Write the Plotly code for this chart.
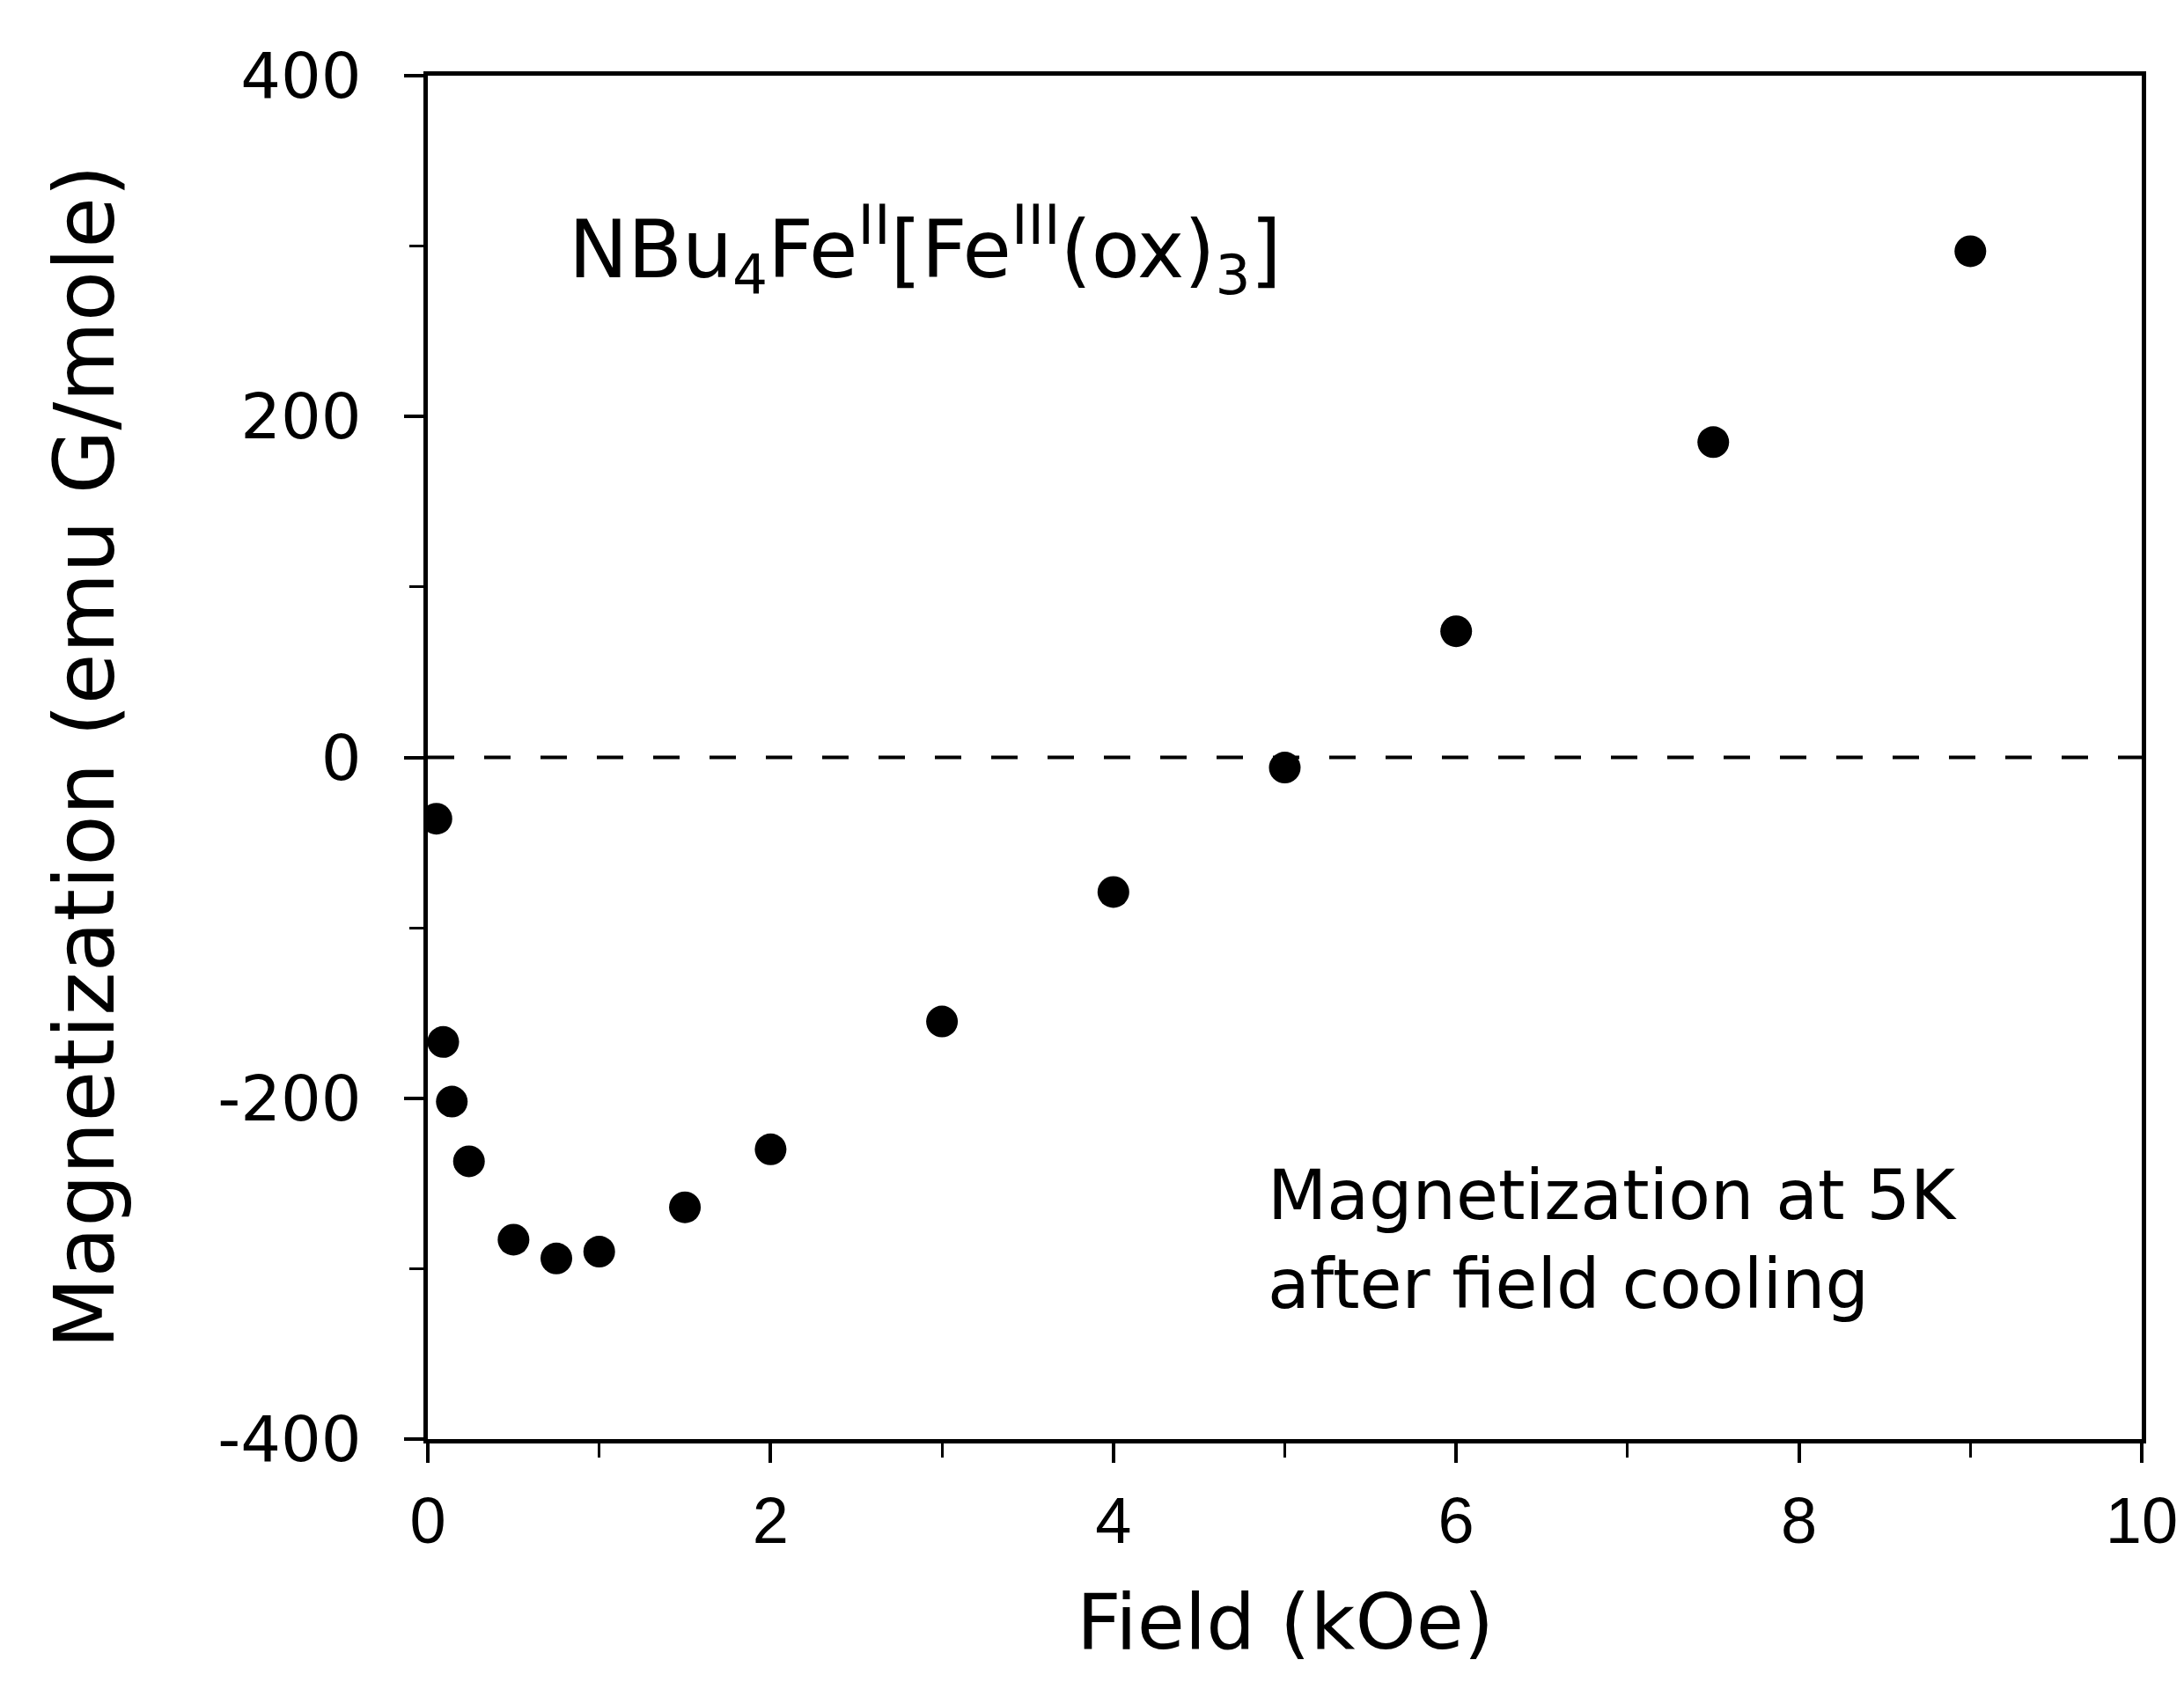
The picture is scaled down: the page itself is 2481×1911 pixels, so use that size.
import plotly.graph_objects as go

field_koe = [0.05, 0.09, 0.14, 0.24, 0.5, 0.75, 1.0, 1.5, 2.0, 3.0, 4.0, 5.0, 6.0, 7.5, 9.0]
magnetization = [-36, -167, -202, -237, -283, -294, -290, -264, -230, -155, -79, -6, 74, 185, 297]

x_ticks = [0, 2, 4, 6, 8, 10]
y_ticks = [-400, -200, 0, 200, 400]

SANS = "Liberation Sans, Arial, sans-serif"
WIDE = "DejaVu Sans, Verdana, sans-serif"

W, H = 2481, 1911
L, R, T, B = 478, 56, 78, 284
PW, PH = W - L - R, H - T - B

fig = go.Figure()
fig.add_trace(go.Scatter(
    x=field_koe, y=magnetization, mode="markers",
    marker=dict(color="black", size=36, symbol="circle"),
    showlegend=False,
))

fig.add_hline(y=0, line=dict(color="black", width=4, dash="30px,34px"))

fig.add_annotation(
    x=(636 - L) / PW, y=0.872, xref="paper", yref="paper", xanchor="left", yanchor="middle",
    text="NBu<sub>4</sub>Fe<sup>II</sup>[Fe<sup>III</sup>(ox)<sub>3</sub>]",
    showarrow=False, font=dict(family=WIDE, size=90, color="black"),
)
fig.add_annotation(
    x=(1430 - L) / PW, y=0.146, xref="paper", yref="paper", xanchor="left", yanchor="middle",
    text="Magnetization at 5K<br>after field cooling", align="left",
    showarrow=False, font=dict(family=WIDE, size=78, color="black"),
)
# axis titles
fig.add_annotation(
    x=0.5, y=-(1834 - (H - B)) / PH, xref="paper", yref="paper",
    xanchor="center", yanchor="middle", text="Field (kOe)", showarrow=False,
    font=dict(family=WIDE, size=88, color="black"),
)
fig.add_annotation(
    x=-(L - 88) / PW, y=0.5, xref="paper", yref="paper", textangle=-90,
    xanchor="center", yanchor="middle", text="Magnetization (emu G/mole)", showarrow=False,
    font=dict(family=WIDE, size=94, color="black"),
)

axis_common = dict(
    showline=True, linecolor="black", linewidth=5, mirror=True,
    showgrid=False, zeroline=False, ticks="outside", tickcolor="black",
    tickwidth=4, ticklen=22,
)

fig.update_xaxes(
    range=[0, 10], tickvals=x_ticks, ticktext=[str(v) for v in x_ticks],
    tickfont=dict(family=SANS, size=74, color="black"),
    minor=dict(dtick=1, ticks="outside", ticklen=16, tickwidth=3, tickcolor="black"),
    ticklabelstandoff=2,
    **axis_common,
)
fig.update_yaxes(
    range=[-400, 400], tickvals=y_ticks, ticktext=[str(v) for v in y_ticks],
    tickfont=dict(family=WIDE, size=72, color="black"),
    minor=dict(dtick=100, ticks="outside", ticklen=16, tickwidth=3, tickcolor="black"),
    ticklabelstandoff=34,
    **axis_common,
)

fig.update_layout(
    width=W, height=H,
    margin=dict(l=L, r=R, t=T, b=B),
    plot_bgcolor="white", paper_bgcolor="white",
)

fig.write_html("out.html")
